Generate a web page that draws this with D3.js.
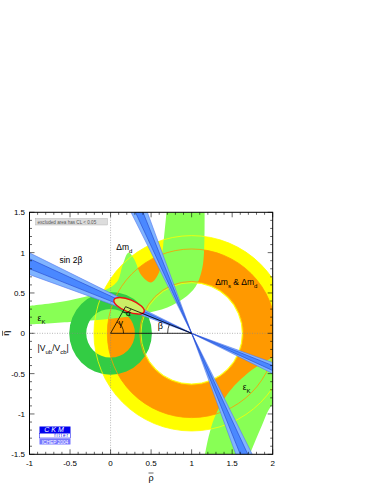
<!DOCTYPE html>
<html>
<head>
<meta charset="utf-8">
<script src="https://cdn.jsdelivr.net/npm/d3@7"></script>
<style>
  body { margin: 0; background: #fff; }
  text { font-family: "Liberation Sans", Arial, sans-serif; }
</style>
</head>
<body>
<div id="chart"></div>
<script>
// ---- data (rho-bar, eta-bar) ----
const xTicks = [-1, -0.5, 0, 0.5, 1, 1.5, 2];
const yTicks = [-1.5, -1, -0.5, 0, 0.5, 1, 1.5];

// rings centred on (1,0): [inner, outer] radius
const dmdRing = [0.625, 1.205];
const dmsRing = [0.64, 1.04];
// ring centred on (0,0)
const vubRing = [0.30, 0.51];

// sin2beta wedges through (1,0), angle in degrees from the -rho axis
const beta1Outer = [20.0, 26.5], beta1Inner = [21.8, 24.8];
const beta2Outer = [63.5, 70.0], beta2Inner = [65.2, 68.2];

// eps_K band, upper branch
const epsUpperOuter = [[-1, 0.34], [-0.5, 0.41], [-0.1, 0.52], [0.08, 0.64], [0.15, 0.85], [0.22, 1.0], [0.29, 0.92],
  [0.38, 0.72], [0.5, 0.63], [0.6, 0.76], [0.65, 1.1], [0.69, 1.5]];
const epsUpperInner = [[1.16, 1.5], [1.155, 1.05], [1.13, 0.8], [1.05, 0.58], [0.9, 0.43], [0.7, 0.32], [0.4, 0.24], [0, 0.18], [-0.5, 0.14], [-1, 0.11]];
// eps_K band, lower branch
const epsLowerInner = [[2, -0.30], [1.75, -0.45], [1.5, -0.68], [1.39, -0.83], [1.28, -1.05], [1.21, -1.28], [1.165, -1.5]];
const epsLowerOuter = [[1.72, -1.5], [1.86, -1.16], [2, -0.88]];

// global fit
const apex = [0.185, 0.33];
const fitEllipse = { cx: 0.228, cy: 0.341, a: 0.2, b: 0.075, rot: 22 };

const labels = [
  { x: -0.63, y: 0.875, html: "sin 2β" },
  { x: 0.07, y: 1.03, html: "Δm<tspan baseline-shift='sub' font-size='6'>d</tspan>" },
  { x: 1.29, y: 0.6, html: "Δm<tspan baseline-shift='sub' font-size='6'>s</tspan> &amp; Δm<tspan baseline-shift='sub' font-size='6'>d</tspan>" },
  { x: -0.9, y: 0.15, html: "ε<tspan baseline-shift='sub' font-size='6'>K</tspan>" },
  { x: 1.63, y: -0.7, html: "ε<tspan baseline-shift='sub' font-size='6'>K</tspan>" },
  { x: -0.9, y: -0.22, html: "|V<tspan baseline-shift='sub' font-size='6'>ub</tspan>/V<tspan baseline-shift='sub' font-size='6'>cb</tspan>|" }
];

// ---- setup ----
const W = 374, H = 484;
const x = d3.scaleLinear().domain([-1, 2]).range([29.5, 272.7]);
const y = d3.scaleLinear().domain([-1.5, 1.5]).range([454.3, 212.3]);
const k = x(1) - x(0); // px per unit

const svg = d3.select("#chart").append("svg").attr("width", W).attr("height", H);

svg.append("clipPath").attr("id", "clip")
  .append("rect")
  .attr("x", x(-1)).attr("y", y(1.5))
  .attr("width", x(2) - x(-1)).attr("height", y(-1.5) - y(1.5));

const plot = svg.append("g").attr("clip-path", "url(#clip)");
const line = d3.line().x(d => x(d[0])).y(d => y(d[1]));
const curve = d3.line().x(d => x(d[0])).y(d => y(d[1])).curve(d3.curveCatmullRom);

function ring(c, r, fill) {
  plot.append("path")
    .attr("transform", `translate(${x(c[0])},${y(c[1])})`)
    .attr("d", d3.arc()({ innerRadius: r[0] * k, outerRadius: r[1] * k, startAngle: 0, endAngle: 2 * Math.PI }))
    .attr("fill", fill);
}

ring([1, 0], dmdRing, "#ffff00");
ring([1, 0], dmsRing, "#ff9900");

// eps_K band
function bandPath(a, b) {
  return curve(a) + "L" + curve(b).slice(1) + "Z";
}
plot.append("path").attr("d", bandPath(epsUpperOuter, epsUpperInner)).attr("fill", "#88ff55");
plot.append("path").attr("d", bandPath(epsLowerInner, epsLowerOuter.concat([[2.3, -0.7], [2.3, -0.2]]))).attr("fill", "#88ff55");

ring([0, 0], vubRing, "#33cc44");

// ring border lines
function circleLine(c, r, col) {
  plot.append("circle")
    .attr("cx", x(c[0])).attr("cy", y(c[1])).attr("r", r * k)
    .attr("fill", "none").attr("stroke", col).attr("stroke-width", 0.8);
}
circleLine([1, 0], dmdRing[0], "#ffff00");
circleLine([1, 0], dmdRing[1], "#ffff00");
circleLine([1, 0], dmsRing[0], "#ff9900");
circleLine([1, 0], dmsRing[1], "#ff9900");

// sin2beta wedges
function wedge(ang, fill, stroke) {
  const L = 5, r = Math.PI / 180;
  const a1 = ang[0] * r, a2 = ang[1] * r;
  const pts = [[1, 0], [1 - L * Math.cos(a1), L * Math.sin(a1)], [1 - L * Math.cos(a2), L * Math.sin(a2)], [1, 0],
    [1 + L * Math.cos(a1), -L * Math.sin(a1)], [1 + L * Math.cos(a2), -L * Math.sin(a2)]];
  plot.append("path").attr("d", line(pts) + "Z").attr("fill", fill);
  if (stroke) {
    ang.forEach(a => {
      plot.append("path")
        .attr("d", line([[1 - L * Math.cos(a * r), L * Math.sin(a * r)], [1 + L * Math.cos(a * r), -L * Math.sin(a * r)]]))
        .attr("stroke", stroke).attr("stroke-width", 0.6).attr("fill", "none");
    });
  }
}
wedge(beta1Outer, "#80b4ff", "#5577ee");
wedge(beta1Inner, "#4a88ff", "#2244cc");
wedge(beta2Outer, "#80b4ff", "#5577ee");
wedge(beta2Inner, "#4a88ff", "#2244cc");

// dotted axes
plot.append("line").attr("x1", x(0)).attr("x2", x(0)).attr("y1", y(1.5)).attr("y2", y(-1.5))
  .attr("stroke", "#888").attr("stroke-width", 0.6).attr("stroke-dasharray", "1,1.5");
plot.append("line").attr("x1", x(-1)).attr("x2", x(2)).attr("y1", y(0)).attr("y2", y(0))
  .attr("stroke", "#888").attr("stroke-width", 0.6).attr("stroke-dasharray", "1,1.5");

// fit ellipse
plot.append("ellipse")
  .attr("transform", `translate(${x(fitEllipse.cx)},${y(fitEllipse.cy)}) rotate(${fitEllipse.rot})`)
  .attr("rx", fitEllipse.a * k).attr("ry", fitEllipse.b * k)
  .attr("fill", "#ccee66").attr("stroke", "#ee1111").attr("stroke-width", 1.4);

// unitarity triangle
plot.append("path").attr("d", line([[0, 0], [1, 0], apex]) + "Z")
  .attr("fill", "none").attr("stroke", "#000").attr("stroke-width", 0.8);

// angle arcs (in px)
const O = [x(0), y(0)], B = [x(1), y(0)], A = [x(apex[0]), y(apex[1])];
function arcAt(c, p1, p2, r) {
  const a1 = Math.atan2(p1[1] - c[1], p1[0] - c[0]);
  const a2 = Math.atan2(p2[1] - c[1], p2[0] - c[0]);
  const s = [c[0] + r * Math.cos(a1), c[1] + r * Math.sin(a1)];
  const e = [c[0] + r * Math.cos(a2), c[1] + r * Math.sin(a2)];
  let d = a2 - a1; while (d < 0) d += 2 * Math.PI;
  const sweep = d < Math.PI ? 1 : 0;
  svg.append("path").attr("d", `M${s}A${r},${r} 0 0 ${sweep} ${e}`)
    .attr("fill", "none").attr("stroke", "#000").attr("stroke-width", 0.7);
}
arcAt(O, A, B, 13);
arcAt(B, [B[0] - 10, B[1]], A, 24);
arcAt(A, O, B, 6);

svg.append("text").attr("x", O[0] + 8).attr("y", O[1] - 7).attr("font-size", 9).text("γ");
svg.append("text").attr("x", A[0] + 0.5).attr("y", A[1] + 9).attr("font-size", 8).text("α");
svg.append("text").attr("x", B[0] - 34).attr("y", B[1] - 4).attr("font-size", 9).text("β");

// region labels
labels.forEach(l => {
  svg.append("text").attr("x", x(l.x)).attr("y", y(l.y)).attr("font-size", 8.5).attr("fill", "#000").html(l.html);
});

// legend box
svg.append("rect").attr("x", 35.5).attr("y", 218.5).attr("width", 72).attr("height", 6.5)
  .attr("fill", "#dddddd").attr("stroke", "#aaa").attr("stroke-width", 0.4);
svg.append("text").attr("x", 37.5).attr("y", 223.5).attr("font-size", 4.6).attr("fill", "#555")
  .text("excluded area has CL < 0.05");

// logo
svg.append("rect").attr("x", 39.5).attr("y", 426.5).attr("width", 31).attr("height", 6.5).attr("fill", "#0000ee");
svg.append("text").attr("x", 55).attr("y", 432.3).attr("text-anchor", "middle").attr("font-size", 7)
  .attr("font-style", "italic").attr("fill", "#fff").attr("letter-spacing", 2).text("CKM");
svg.append("rect").attr("x", 39.5).attr("y", 433.3).attr("width", 31).attr("height", 4.7)
  .attr("fill", "#fff").attr("stroke", "#0000ee").attr("stroke-width", 0.5);
svg.append("text").attr("x", 69).attr("y", 437.3).attr("text-anchor", "end").attr("font-size", 4.5)
  .attr("fill", "#0000ee").attr("letter-spacing", 1).text("fitter");
svg.append("rect").attr("x", 39.5).attr("y", 438.5).attr("width", 31).attr("height", 6).attr("fill", "#7777ff");
svg.append("text").attr("x", 55).attr("y", 443.5).attr("text-anchor", "middle").attr("font-size", 4.8)
  .attr("fill", "#fff").text("ICHEP 2004");

// frame and ticks
svg.append("rect").attr("x", x(-1)).attr("y", y(1.5)).attr("width", x(2) - x(-1)).attr("height", y(-1.5) - y(1.5))
  .attr("fill", "none").attr("stroke", "#000").attr("stroke-width", 1);

const minorX = d3.range(-10, 21).map(i => i / 10);
const minorY = d3.range(-15, 16).map(i => i / 10);
const tg = svg.append("g").attr("stroke", "#000").attr("stroke-width", 0.6);
minorX.forEach(v => {
  const len = Math.abs(v * 2 - Math.round(v * 2)) < 1e-6 ? 5 : 2.5;
  tg.append("line").attr("x1", x(v)).attr("x2", x(v)).attr("y1", y(-1.5)).attr("y2", y(-1.5) - len);
  tg.append("line").attr("x1", x(v)).attr("x2", x(v)).attr("y1", y(1.5)).attr("y2", y(1.5) + len);
});
minorY.forEach(v => {
  const len = Math.abs(v * 2 - Math.round(v * 2)) < 1e-6 ? 5 : 2.5;
  tg.append("line").attr("x1", x(-1)).attr("x2", x(-1) + len).attr("y1", y(v)).attr("y2", y(v));
  tg.append("line").attr("x1", x(2)).attr("x2", x(2) - len).attr("y1", y(v)).attr("y2", y(v));
});

xTicks.forEach(v => {
  svg.append("text").attr("x", x(v)).attr("y", 466).attr("text-anchor", "middle").attr("font-size", 8).text(v);
});
yTicks.forEach(v => {
  svg.append("text").attr("x", 25).attr("y", y(v) + 3).attr("text-anchor", "end").attr("font-size", 8).text(v);
});

// axis titles with overbar
svg.append("text").attr("x", 151).attr("y", 481).attr("text-anchor", "middle").attr("font-size", 9).text("ρ");
svg.append("line").attr("x1", 148.5).attr("x2", 153.5).attr("y1", 473).attr("y2", 473).attr("stroke", "#000").attr("stroke-width", 0.6);
svg.append("text").attr("transform", `translate(9,${y(0)}) rotate(-90)`).attr("text-anchor", "middle")
  .attr("font-size", 9).text("η");
svg.append("line").attr("x1", 2.5).attr("x2", 2.5).attr("y1", y(0) - 2.5).attr("y2", y(0) + 2.5).attr("stroke", "#000").attr("stroke-width", 0.6);
</script>
</body>
</html>
